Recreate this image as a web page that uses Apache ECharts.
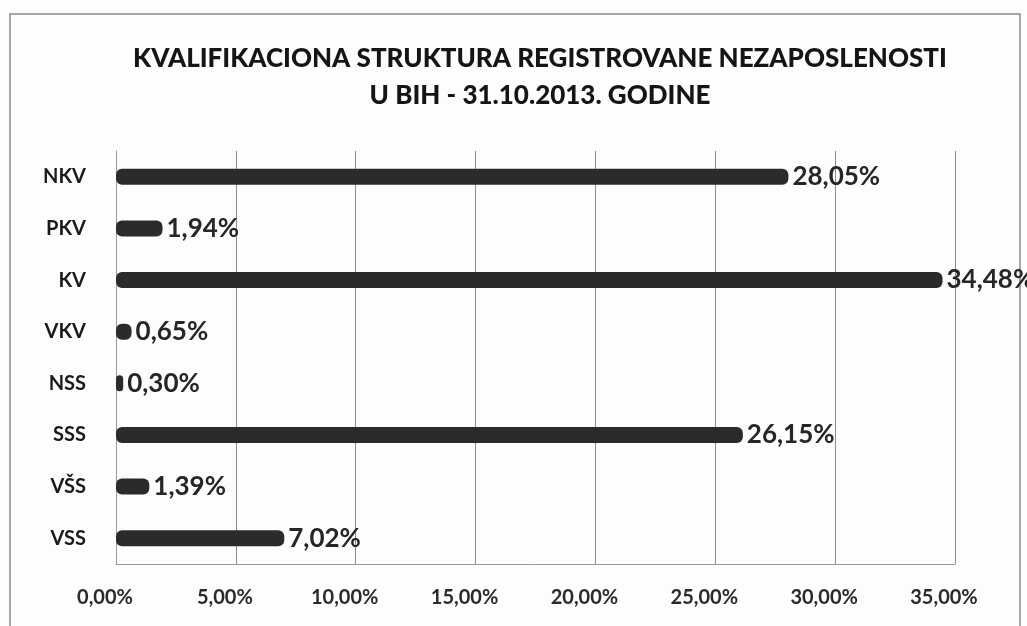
<!DOCTYPE html>
<html>
<head>
<meta charset="utf-8">
<script src="https://cdn.jsdelivr.net/npm/echarts@6/dist/echarts.min.js"></script>
<style>
html,body{margin:0;padding:0;background:#fff;}
#chart{width:1027px;height:626px;}
</style>
</head>
<body>
<div id="chart"></div>
<script>
var categories = ['NKV', 'PKV', 'KV', 'VKV', 'NSS', 'SSS', 'VŠS', 'VSS'];
var shares = [28.05, 1.94, 34.48, 0.65, 0.30, 26.15, 1.39, 7.02];

function pct(v){
	return v.toFixed(2).replace('.', ',') + '%';
}

var myChart = echarts.init(document.getElementById('chart'));

var option = {
	backgroundColor: '#fdfdfd',
	textStyle: {fontFamily: 'Lato'},
	title: {
		text: 'KVALIFIKACIONA STRUKTURA REGISTROVANE NEZAPOSLENOSTI\nU BIH - 31.10.2013. GODINE',
		left: 535,
		textAlign: 'center',
		top: 35,
		textStyle: {
			fontFamily: 'Lato',
			fontWeight: 900,
			fontSize: 26,
			lineHeight: 37,
			color: '#151515'
		}
	},
	graphic: [{
		type: 'rect',
		shape: {x: 10, y: 14, width: 1010, height: 640},
		style: {fill: 'none', stroke: '#8a8a8a', lineWidth: 1.5},
		silent: true
	}],
	grid: {left: 116, right: 72, top: 151, bottom: 62},
	xAxis: {
		type: 'value',
		min: 0,
		max: 35,
		interval: 5,
		axisLine: {show: true, lineStyle: {color: '#999'}},
		axisTick: {show: false},
		splitLine: {show: true, lineStyle: {color: '#8c8c8c', width: 1}},
		axisLabel: {
			formatter: function (v) { return pct(v); },
			color: '#2a2a2a',
			fontWeight: 'bold',
			fontSize: 20,
			margin: 24,
			padding: [0, 22, 0, 0]
		}
	},
	yAxis: {
		type: 'category',
		data: categories,
		inverse: true,
		axisLine: {show: true, lineStyle: {color: '#999'}},
		axisTick: {show: false},
		axisLabel: {
			color: '#1a1a1a',
			fontWeight: 'bold',
			fontSize: 20,
			margin: 30
		}
	},
	series: [{
		type: 'bar',
		data: shares,
		barWidth: 16,
		itemStyle: {
			color: '#2b2b2b',
			borderRadius: 6
		},
		label: {
			show: true,
			position: 'right',
			distance: 4,
			formatter: function (p) { return pct(p.value); },
			color: '#262626',
			fontWeight: 'bold',
			fontSize: 26
		}
	}]
};

myChart.setOption(option);
</script>
</body>
</html>
